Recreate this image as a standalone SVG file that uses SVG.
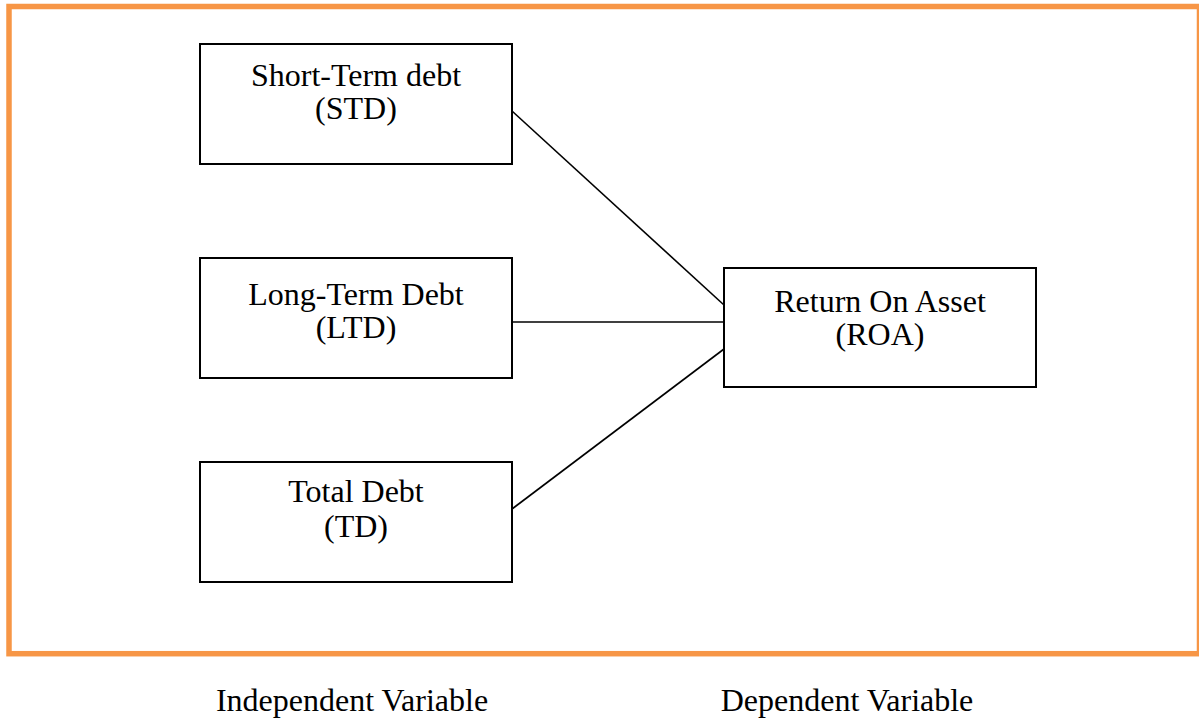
<svg xmlns="http://www.w3.org/2000/svg" width="1199" height="728" viewBox="0 0 1199 728">
<style>
  .box { fill: #ffffff; stroke: #000000; stroke-width: 2; }
  .lbl { font-family: "Liberation Serif", "Times New Roman", serif; font-size: 32px; fill: #000000; text-anchor: middle; }
  .conn { stroke: #000000; stroke-width: 1.6; fill: none; }
</style>
<rect x="0" y="0" width="1199" height="728" fill="#ffffff"/>
<rect id="frame" x="9" y="6.5" width="1190.5" height="647.2" fill="none" stroke="#F79646" stroke-width="5.5"/>
<g id="connectors">
  <line class="conn" x1="512" y1="111" x2="724" y2="305"/>
  <line class="conn" x1="512" y1="322" x2="724" y2="322"/>
  <line class="conn" x1="512" y1="509" x2="724" y2="349"/>
</g>
<g id="std">
  <rect class="box" x="200" y="44" width="312" height="120"/>
  <text class="lbl" x="356" y="86">Short-Term debt</text>
  <text class="lbl" x="356" y="119">(STD)</text>
</g>
<g id="ltd">
  <rect class="box" x="200" y="258" width="312" height="120"/>
  <text class="lbl" x="356" y="305">Long-Term Debt</text>
  <text class="lbl" x="356" y="338">(LTD)</text>
</g>
<g id="td">
  <rect class="box" x="200" y="462" width="312" height="120"/>
  <text class="lbl" x="356" y="502">Total Debt</text>
  <text class="lbl" x="356" y="537">(TD)</text>
</g>
<g id="roa">
  <rect class="box" x="724" y="268" width="312" height="119"/>
  <text class="lbl" x="880" y="312">Return On Asset</text>
  <text class="lbl" x="880" y="345">(ROA)</text>
</g>
<g id="captions">
  <text class="lbl" x="352" y="711">Independent Variable</text>
  <text class="lbl" x="847" y="711">Dependent Variable</text>
</g>
</svg>
